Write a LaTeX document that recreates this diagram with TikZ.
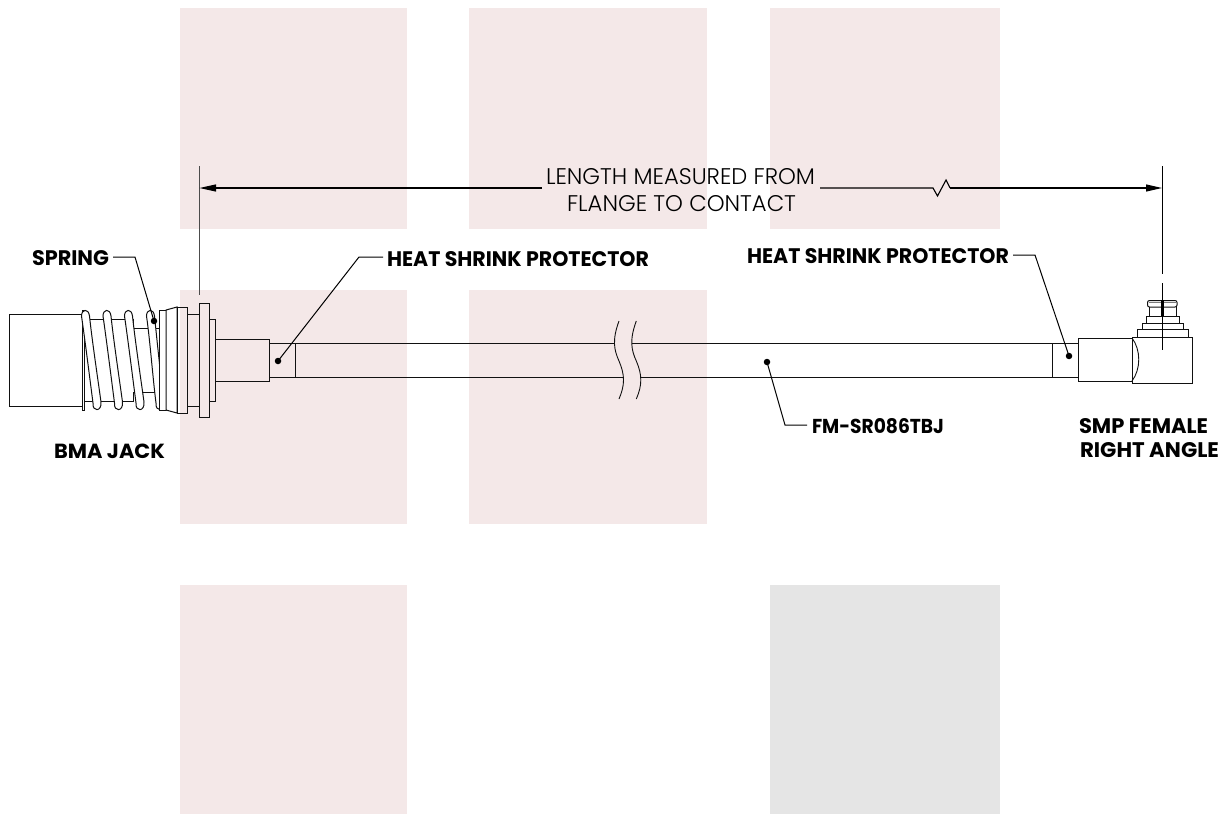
\documentclass[tikz,border=0pt]{standalone}
\usepackage{fontspec}
\usepackage{graphicx}
\setmainfont{Poppins}
\newfontfamily\lightf{Poppins Light}
\usetikzlibrary{arrows.meta}
\definecolor{pinkbg}{HTML}{F4E8E8}
\definecolor{greybg}{HTML}{E5E5E5}
\definecolor{ink}{HTML}{111111}
\tikzset{
  pinkbox/.style={fill=pinkbg,draw=none},
  greybox/.style={fill=greybg,draw=none},
  part/.style={draw=ink,line width=1pt,line join=miter},
  partw/.style={part,fill=white},
  thinpart/.style={draw=ink,line width=0.9pt},
  leader/.style={draw=black,line width=1pt},
  tip/.style={circle,fill=black,inner sep=0pt,minimum size=6.5pt},
  extline/.style={draw=ink!75,line width=1.3pt},
  dimline/.style={draw=black,line width=1.1pt},
  lbl/.style={anchor=base west,inner sep=0pt,outer sep=0pt,text=black},
}
\newcommand{\bt}[3]{\resizebox{#1pt}{#2pt}{\bfseries #3}}
\newcommand{\lt}[3]{\resizebox{#1pt}{#2pt}{\lightf #3}}
\begin{document}
\begin{tikzpicture}[x=1pt,y=-1pt]
\useasboundingbox (0,0) rectangle (1228,814);
% background panels
\fill[pinkbox] (180,8) rectangle (407,229);
\fill[pinkbox] (469,8) rectangle (707,229);
\fill[pinkbox] (770,8) rectangle (1000,229);
\fill[pinkbox] (180,290) rectangle (407,524);
\fill[pinkbox] (469,290) rectangle (707,524);
\fill[pinkbox] (180,585) rectangle (407,814);
\fill[greybox] (770,585) rectangle (1000,814);
% BMA jack body
\draw[part] (9,314) rectangle (82,406);
\draw[part] (82,310) rectangle (84,410);
\draw[part] (84,319) -- (133,319) -- (133,328) -- (160,328);
\draw[part] (84,401) -- (133,401) -- (133,392) -- (160,392);
% spring
\foreach \tx/\bx in {85/97,106.5/118.5,128/140,150/160}{
  \draw[partw] (\tx-3.5,316) .. controls (\tx-3.5,309) and (\tx+3.5,308) .. (\tx+4.5,316)
    .. controls (\tx+7,340) and (\bx+1,380) .. (\bx+4,402)
    .. controls (\bx+5,412) and (\bx-5,412) .. (\bx-4,403)
    .. controls (\bx-7,380) and (\tx,340) .. (\tx-3.5,316) -- cycle;
}
% flange stack
\draw[partw] (159,310) rectangle (166,410);
\draw[partw] (166,310) -- (177,307) -- (177,413) -- (166,410) -- cycle;
\draw[part] (177,307) rectangle (187,413);
\draw[part] (187,314) -- (199,314);
\draw[part] (187,406) -- (199,406);
\draw[part] (199,303) rectangle (209,417);
\draw[part] (209,319) -- (215,319) -- (215,401) -- (209,401);
\draw[part] (215,339) rectangle (269.5,381);
% cable
\draw[part] (269.5,343) -- (615,343);
\draw[part] (269.5,377) -- (623.3,377);
\draw[part] (632.3,343) -- (1078,343);
\draw[part] (640.6,377) -- (1078,377);
\draw[thinpart] (295,343) -- (295,377);
\draw[thinpart] (1052,343) -- (1052,377);
\draw[thinpart] (619,321) .. controls (612,340) and (614,350) .. (619,361) .. controls (625,375) and (625,385) .. (619,399);
\draw[thinpart] (636.3,321) .. controls (629.3,340) and (631.3,350) .. (636.3,361) .. controls (642.3,375) and (642.3,385) .. (636.3,399);
% SMP connector
\draw[part] (1078,338) rectangle (1132,381);
\draw[part] (1132,337) rectangle (1192,383);
\draw[thinpart] (1132,338) .. controls (1141,350) and (1141,369) .. (1132,381);
\draw[part] (1137,337) -- (1137,329) -- (1188,329) -- (1188,337);
\draw[part] (1142,329) -- (1142,323) -- (1183,323) -- (1183,329);
\draw[part] (1146,323) -- (1146,316) -- (1179,316) -- (1179,323);
\draw[part] (1149,316) -- (1149,307);
\draw[part] (1176,316) -- (1176,307);
\draw[part,rounded corners=2pt] (1147.5,300.5) rectangle (1177,307);
\draw[draw=ink!55,line width=0.8pt] (1149,302.5) -- (1176,302.5);
% extension lines
\coordinate (extLtop) at (199.5,166);
\coordinate (extLbot) at (199.5,295);
\coordinate (extRtop) at (1162,166);
\coordinate (extRbot) at (1162,274);
\coordinate (ctrTop) at (1162,283);
\coordinate (ctrBot) at (1162,350);
\coordinate (arrL) at (199.5,188);
\coordinate (arrR) at (1162,188);
\coordinate (zigA) at (933,188);
\coordinate (zigB) at (937.5,196);
\coordinate (zigC) at (946,180);
\coordinate (zigD) at (950,188);
\draw[extline] (extLtop) -- (extLbot);
\draw[draw=black,line width=1pt] (extRtop) -- (extRbot);
\draw[draw=black,line width=1pt] (ctrTop) -- (ctrBot);
\draw[draw=black,line width=3pt] (1162,300) -- (1162,316);
% labels
\node[lbl] (spring) at (32,265) {\bt{77}{15}{SPRING}};
\node[lbl] (bma) at (54,458) {\bt{111}{14.5}{BMA JACK}};
\node[lbl] (hspL) at (387,266) {\bt{262}{15}{HEAT SHRINK PROTECTOR}};
\node[lbl] (hspR) at (747,263) {\bt{262}{15}{HEAT SHRINK PROTECTOR}};
\node[lbl] (fm) at (812,433) {\bt{132}{15}{FM-SR086TBJ}};
\node[lbl] (smpA) at (1079,433) {\bt{129}{15}{SMP FEMALE}};
\node[lbl] (smpB) at (1080,457) {\bt{139}{15}{RIGHT ANGLE}};
\node[lbl] (lenA) at (546,184) {\lt{269}{16}{LENGTH MEASURED FROM}};
\node[lbl] (lenB) at (567,211) {\lt{229}{16}{FLANGE TO CONTACT}};
% dimension line
\coordinate (dimL) at (542,188);
\coordinate (dimR) at (820,188);
\draw[dimline,{Triangle[length=16.5pt,width=7pt]}-] (arrL) -- (dimL);
\draw[dimline] (dimR) -- (zigA) -- (zigB) -- (zigC) -- (zigD);
\draw[dimline,-{Triangle[length=16pt,width=7pt]}] (zigD) -- (arrR);
% leaders
\node[tip] (dSpring) at (154,321) {};
\node[tip] (dHspL) at (278,361) {};
\node[tip] (dHspR) at (1069,356) {};
\node[tip] (dFm) at (767,362) {};
\coordinate (kSpringA) at (113,257);
\coordinate (kSpring) at (135,257);
\coordinate (kHspLA) at (383,257);
\coordinate (kHspL) at (359,257);
\coordinate (kHspRA) at (1013,255);
\coordinate (kHspR) at (1035,255);
\coordinate (kFmA) at (807,425);
\coordinate (kFm) at (785,425);
\draw[leader] (kSpringA) -- (kSpring) -- (dSpring.center);
\draw[leader] (kHspLA) -- (kHspL) -- (dHspL.center);
\draw[leader] (kHspRA) -- (kHspR) -- (dHspR.center);
\draw[leader] (kFmA) -- (kFm) -- (dFm.center);
\end{tikzpicture}
\end{document}
